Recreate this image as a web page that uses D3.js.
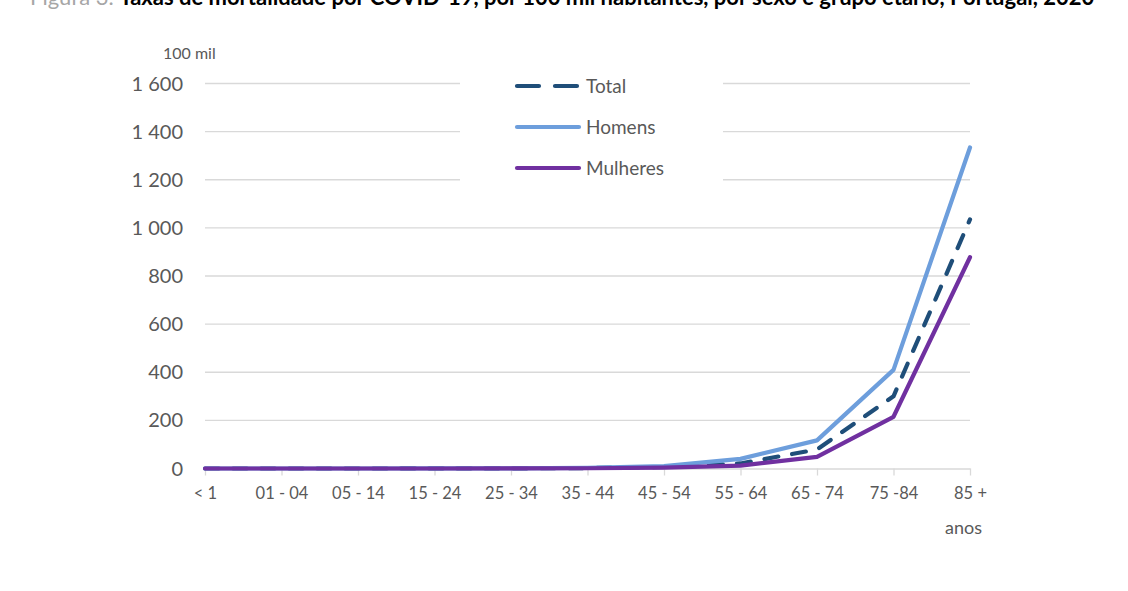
<!DOCTYPE html>
<html lang="pt">
<head>
<meta charset="UTF-8">
<title>Taxas de mortalidade por COVID-19</title>
<script src="https://cdn.jsdelivr.net/npm/d3@7"></script>
<style>
    body{ margin:0; background:#fff; }
    text{ font-family: Lato, "Open Sans", sans-serif; }
    .tick text{ fill:#595959; }
</style>
</head>
<body>
<div id="chart"></div>
<script>
    // data (taxa por 100 mil habitantes)
    const grupos = ["< 1","01 - 04","05 - 14","15 - 24","25 - 34","35 - 44","45 - 54","55 - 64","65 - 74","75 -84","85 +"];
    const total    = [0, 0, 0, 0.2, 0.6, 1.8, 6.5, 21, 79, 300, 1035];
    const homens   = [0, 0, 0, 0.3, 0.8, 2.5, 10, 40, 117, 410, 1334];
    const mulheres = [0, 0, 0, 0.1, 0.4, 1.1, 3.5, 12, 48, 215, 878];
    const yTicks = [0, 200, 400, 600, 800, 1000, 1200, 1400, 1600];

    const W = 1128, H = 591;
    const svg = d3.select("#chart").append("svg")
        .attr("width", W).attr("height", H);

    // title (top half cut off, like the source page)
    const title = svg.append("text").attr("x", 30).attr("y", 5)
        .attr("font-size", 22);
    title.append("tspan").attr("fill", "#a6a6a6").text("Figura 3. ");
    title.append("tspan").attr("fill", "#000").attr("font-weight", "bold")
        .text("Taxas de mortalidade por COVID-19, por 100 mil habitantes, por sexo e grupo etário, Portugal, 2020");

    const x = d3.scalePoint().domain(grupos).range([205, 970]);
    const y = d3.scaleLinear().domain([0, 1600]).range([468.5, 83.5]);

    // gridlines
    svg.append("g").selectAll("line")
        .data(yTicks.filter(d => d > 0))
        .join("line")
        .attr("x1", 205).attr("x2", 970)
        .attr("y1", d => y(d)).attr("y2", d => y(d))
        .attr("stroke", "#d9d9d9").attr("stroke-width", 1.3);

    // y labels
    const fmt = v => v >= 1000 ? d3.format(",")(v).replace(",", " ") : String(v);
    svg.append("g").attr("class", "tick").selectAll("text")
        .data(yTicks)
        .join("text")
        .attr("x", 183).attr("y", d => y(d))
        .attr("dy", "0.35em")
        .attr("text-anchor", "end")
        .attr("font-size", 20)
        .text(fmt);

    svg.append("text").attr("x", 163).attr("y", 59)
        .attr("font-size", 16).attr("fill", "#595959").text("100 mil");

    // x axis
    const xAxis = svg.append("g")
        .attr("transform", `translate(0,${y(0)})`)
        .call(d3.axisBottom(x).tickSize(7).tickPadding(12).tickSizeOuter(0));
    xAxis.select(".domain").attr("stroke", "#d9d9d9").attr("stroke-width", 1.3);
    xAxis.selectAll(".tick line").attr("stroke", "#d9d9d9").attr("stroke-width", 1.3);
    xAxis.selectAll(".tick text").attr("font-size", 16.5)
        .attr("font-family", "Lato, sans-serif");

    svg.append("text").attr("x", 982).attr("y", 534)
        .attr("text-anchor", "end").attr("font-size", 18)
        .attr("fill", "#595959").text("anos");

    // legend background (interrupts gridlines)
    svg.append("rect").attr("x", 460).attr("y", 66)
        .attr("width", 263).attr("height", 122).attr("fill", "#fff");

    const series = [
        {name: "Total", values: total, color: "#1f4e79", dash: "14,14"},
        {name: "Homens", values: homens, color: "#6d9edc", dash: null},
        {name: "Mulheres", values: mulheres, color: "#7030a0", dash: null}
    ];

    const line = d3.line()
        .x((d, i) => x(grupos[i]))
        .y(d => y(d));

    svg.append("g").selectAll("path")
        .data(series)
        .join("path")
        .attr("d", s => line(s.values))
        .attr("fill", "none")
        .attr("stroke", s => s.color)
        .attr("stroke-width", 4.2)
        .attr("stroke-linejoin", "round")
        .attr("stroke-linecap", "round")
        .attr("stroke-dasharray", s => s.dash);

    const legend = svg.append("g").selectAll("g")
        .data(series)
        .join("g")
        .attr("transform", (d, i) => `translate(517,${86 + i * 41})`);
    legend.append("line")
        .attr("x1", 0).attr("x2", 62)
        .attr("stroke", d => d.color)
        .attr("stroke-width", 4.2)
        .attr("stroke-linecap", "round")
        .attr("stroke-dasharray", d => d.dash ? "22,16" : null);
    legend.append("text")
        .attr("x", 69).attr("dy", "0.35em")
        .attr("font-size", 19).attr("fill", "#595959")
        .text(d => d.name);
</script>
</body>
</html>
